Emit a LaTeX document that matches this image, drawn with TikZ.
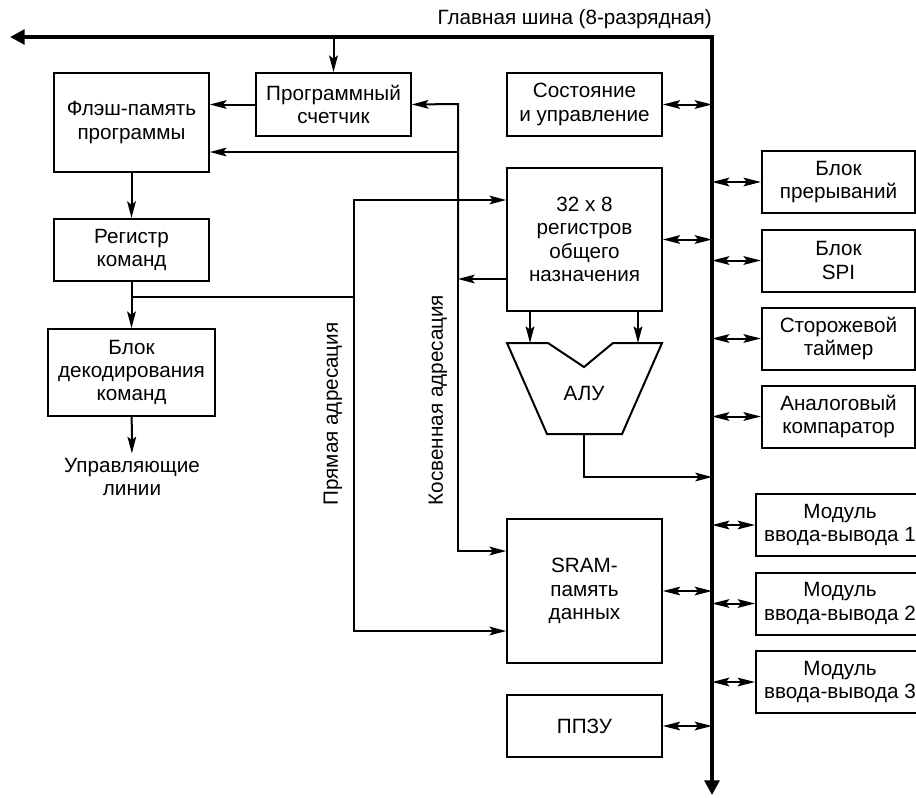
\documentclass[tikz,border=0pt]{standalone}
\usepackage{fontspec}
\setmainfont{Liberation Sans}
\usetikzlibrary{arrows.meta}

\begin{document}
\begin{tikzpicture}[
    x=0.75pt, y=-0.75pt,
    font=\fontsize{15.5}{17.5}\selectfont,
    box/.style={rectangle, draw, line width=1.5pt, align=center, inner sep=2pt, minimum width=116pt, minimum height=47pt},
    tall/.style={box, minimum height=107.5pt},
    side/.style={box, minimum width=115pt, minimum height=46.5pt},
    iomod/.style={box, minimum width=126pt, minimum height=46.5pt},
    line/.style={line width=1.5pt},
    arrow/.style={line, -{Stealth[length=12.5pt, width=6.5pt, inset=2.5pt]}},
    dblarrow/.style={line, {Stealth[length=13pt, width=6.5pt, inset=2.5pt]}-{Stealth[length=13pt, width=6.5pt, inset=2.5pt]}},
    bus/.style={line width=3pt, {Triangle[length=11pt, width=11pt]}-{Triangle[length=11pt, width=11pt]}}
]
\useasboundingbox (0,0) rectangle (916,797);

\coordinate (busL) at (10,37);
\coordinate (busC) at (712,37);
\coordinate (busB) at (712,795);
\node[anchor=south east, inner sep=0pt] (buslabel) at (712,29) {Главная шина (8-разрядная)};

\node[box, minimum height=74pt] (flash) at (131.5,122.5) {Флэш-память\\программы};
\node[box] (pc) at (333.5,104.5) {Программный\\счетчик};
\node[box, minimum height=46.5pt] (ir) at (131.5,250) {Регистр\\команд};
\node[box, minimum width=125pt, minimum height=65pt] (dec) at (131.5,372.5) {Блок\\декодирования\\команд};
\node[align=center] (ctl) at (132,477) {Управляющие\\линии};

\node[box] (status) at (584.5,104.5) {Состояние\\и управление};
\node[tall] (gpr) at (584.5,239.5) {32 x 8\\регистров\\общего\\назначения};
\node[tall] (sram) at (584.5,591) {SRAM-\\память\\данных};
\node[box, minimum height=46.5pt] (eeprom) at (584.5,726) {ППЗУ};

\node[side] (irq)  at (838.5,182)   {Блок\\прерываний};
\node[side] (spi)  at (838.5,260.5) {Блок\\SPI};
\node[side] (wdt)  at (838.5,338.5) {Сторожевой\\таймер};
\node[side] (acmp) at (838.5,416.5) {Аналоговый\\компаратор};
\node[iomod] (io1) at (840,525)   {Модуль\\ввода-вывода 1};
\node[iomod] (io2) at (840,603.5) {Модуль\\ввода-вывода 2};
\node[iomod] (io3) at (840,682)   {Модуль\\ввода-вывода 3};

% ALU
\draw[line] (507,343) -- (548,343) -- (584,367) -- (613,343) -- (662,343) -- (622,434) -- (547,434) -- cycle;
\node (alu) at (584,393) {АЛУ};

\node[rotate=90] (direct)   at (333,414) {Прямая адресация};
\node[rotate=90] (indirect) at (438,400) {Косвенная адресация};

\coordinate (indT) at (458,104);
\coordinate (indF) at (458,152);
\coordinate (indR) at (458,279);
\coordinate (indB) at (458,551);
\coordinate (dirT) at (354,200);
\coordinate (dirM) at (354,297);
\coordinate (dirB) at (354,631);
\coordinate (aluA) at (530,343);
\coordinate (aluB) at (638,343);
\coordinate (aluO) at (584,434);
\coordinate (aluBus) at (712,477);

\draw[bus] (busL) -- (busC) -- (busB);
\draw[arrow] (pc.north |- busL) -- (pc.north);
\draw[arrow] (pc.west) -- (pc.west -| flash.east);
\draw[arrow] (indR) -- (indT) -- (pc.east);
\draw[arrow] (indR) -- (indB) -- (indB -| sram.west);
\draw[arrow] (indF) -- (indF -| flash.east);
\draw[arrow] (indR -| gpr.west) -- (indR);
\draw[arrow] (flash) -- (ir);
\draw[arrow] (ir) -- (dec);
\draw[arrow] (dec) -- (ctl);
\draw[line] (dirM -| ir.south) -- (dirM);
\draw[arrow] (dirM) -- (dirT) -- (dirT -| gpr.west);
\draw[arrow] (dirM) -- (dirB) -- (dirB -| sram.west);
\draw[arrow] (aluA |- gpr.south) -- (aluA);
\draw[arrow] (aluB |- gpr.south) -- (aluB);
\draw[arrow] (aluO) |- (aluBus);

\draw[dblarrow] (status) -- (status -| busC);
\draw[dblarrow] (gpr)    -- (gpr -| busC);
\draw[dblarrow] (sram)   -- (sram -| busC);
\draw[dblarrow] (eeprom) -- (eeprom -| busC);
\draw[dblarrow] (irq -| busC)  -- (irq);
\draw[dblarrow] (spi -| busC)  -- (spi);
\draw[dblarrow] (wdt -| busC)  -- (wdt);
\draw[dblarrow] (acmp -| busC) -- (acmp);
\draw[dblarrow] (io1 -| busC)  -- (io1);
\draw[dblarrow] (io2 -| busC)  -- (io2);
\draw[dblarrow] (io3 -| busC)  -- (io3);
\end{tikzpicture}
\end{document}
